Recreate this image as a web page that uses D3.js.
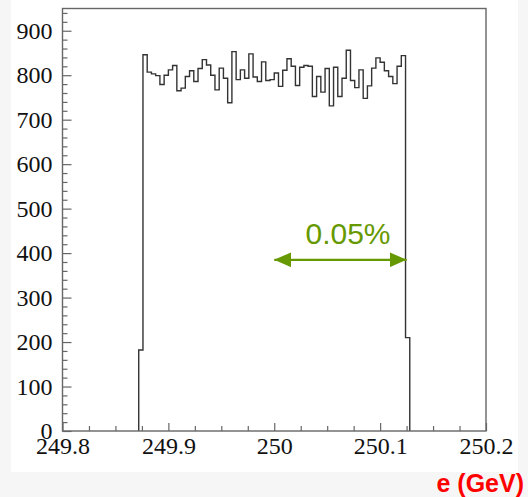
<!DOCTYPE html>
<html>
<head>
<meta charset="utf-8">
<script src="https://cdn.jsdelivr.net/npm/d3@7/dist/d3.min.js"></script>
<style>
  html, body { margin: 0; padding: 0; background: #f6f6f6; }
  svg { display: block; }
</style>
</head>
<body>
<svg id="chart" width="528" height="497"></svg>
<script>
// Beam energy histogram: 100 bins of 0.004 GeV between 249.8 and 250.2 GeV
const histRange = [249.8, 250.2];
const binCount = 100;
const firstFilledBin = 18;
// Counts of the filled bins, starting at bin 18 (249.872 GeV)
const binCounts = [
  182, 846, 807, 803, 799, 779, 800, 812, 822, 765,
  771, 797, 810, 786, 815, 835, 823, 800, 767, 816,
  793, 738, 853, 790, 812, 793, 848, 796, 786, 830,
  788, 790, 805, 775, 811, 837, 820, 777, 818, 822,
  820, 752, 797, 762, 815, 731, 818, 752, 793, 856,
  788, 772, 812, 748, 776, 816, 839, 829, 810, 797,
  781, 820, 844, 210
];
const xTicks = [249.8, 249.9, 250.0, 250.1, 250.2];
const xTickLabels = ["249.8", "249.9", "250", "250.1", "250.2"];
const xMinorTicks = [249.825, 249.85, 249.875, 249.925, 249.95, 249.975,
                     250.025, 250.05, 250.075, 250.125, 250.15, 250.175];
const yTicks = [0, 100, 200, 300, 400, 500, 600, 700, 800, 900];
const yMinorTicks = d3.range(0, 950, 20).filter(v => v % 100 !== 0);
const yMax = 950;
// Spread annotation: 0.05% of 250 GeV
const spreadRange = [250.0, 250.125];
const spreadLabel = "0.05%";
const axisTitle = "e (GeV)";

const svg = d3.select("#chart");
const frame = { left: 62.5, right: 486, top: 8.5, bottom: 431 };

// white pad behind the plot
svg.append("rect")
  .attr("x", 11).attr("y", 0).attr("width", 507).attr("height", 472)
  .attr("fill", "#ffffff");

const x = d3.scaleLinear().domain(histRange).range([frame.left, frame.right]);
const y = d3.scaleLinear().domain([0, yMax]).range([frame.bottom, frame.top]);

const binWidth = (histRange[1] - histRange[0]) / binCount;

// step outline of the histogram
const pts = [];
const firstLow = histRange[0] + firstFilledBin * binWidth;
pts.push([x(firstLow), y(0)]);
binCounts.forEach((c, i) => {
  const lo = histRange[0] + (firstFilledBin + i) * binWidth;
  const hi = lo + binWidth;
  pts.push([x(lo), y(c)]);
  pts.push([x(hi), y(c)]);
});
const lastHigh = histRange[0] + (firstFilledBin + binCounts.length) * binWidth;
pts.push([x(lastHigh), y(0)]);

svg.append("path")
  .attr("d", d3.line()(pts))
  .attr("fill", "none")
  .attr("stroke", "#333")
  .attr("stroke-width", 1.4);

const tickFont = "'Liberation Serif', 'Times New Roman', serif";

// y axis: major and minor ticks pointing into the frame
svg.append("g")
  .attr("transform", `translate(${frame.left},0)`)
  .call(d3.axisLeft(y).tickValues(yTicks).tickSize(-9).tickPadding(10).tickFormat(d3.format("d")));
svg.append("g")
  .attr("transform", `translate(${frame.left},0)`)
  .call(d3.axisLeft(y).tickValues(yMinorTicks).tickSize(-5).tickFormat(""));

// x axis
svg.append("g")
  .attr("transform", `translate(0,${frame.bottom})`)
  .call(d3.axisBottom(x).tickValues(xTicks).tickSize(-8).tickPadding(6)
    .tickFormat((d, i) => xTickLabels[i]));
svg.append("g")
  .attr("transform", `translate(0,${frame.bottom})`)
  .call(d3.axisBottom(x).tickValues(xMinorTicks).tickSize(-5).tickFormat(""));

svg.selectAll(".domain").remove();
svg.selectAll(".tick line").attr("stroke", "#666").attr("stroke-width", 1.2);
svg.selectAll(".tick text")
  .attr("font-family", tickFont)
  .attr("font-size", 24)
  .attr("fill", "#111");

// frame
svg.append("rect")
  .attr("x", frame.left).attr("y", frame.top)
  .attr("width", frame.right - frame.left)
  .attr("height", frame.bottom - frame.top)
  .attr("fill", "none")
  .attr("stroke", "#666")
  .attr("stroke-width", 1.4);

// spread arrow
const green = "#669900";
const defs = svg.append("defs");
defs.append("marker")
  .attr("id", "head")
  .attr("viewBox", "0 0 17 15")
  .attr("refX", 17).attr("refY", 7.5)
  .attr("markerWidth", 17).attr("markerHeight", 15)
  .attr("markerUnits", "userSpaceOnUse")
  .attr("orient", "auto-start-reverse")
  .append("path")
  .attr("d", "M0,0 L17,7.5 L0,15 Z")
  .attr("fill", green);

const arrowY = y(385);
svg.append("line")
  .attr("x1", x(spreadRange[0])).attr("x2", x(spreadRange[1]))
  .attr("y1", arrowY).attr("y2", arrowY)
  .attr("stroke", green).attr("stroke-width", 2.2)
  .attr("marker-start", "url(#head)")
  .attr("marker-end", "url(#head)");

svg.append("text")
  .attr("x", 348).attr("y", 244)
  .attr("text-anchor", "middle")
  .attr("font-family", "'Liberation Sans', Arial, sans-serif")
  .attr("font-size", 30)
  .attr("fill", green)
  .text(spreadLabel);

// axis title
svg.append("text")
  .attr("x", 524).attr("y", 492)
  .attr("text-anchor", "end")
  .attr("font-family", "'Liberation Sans', Arial, sans-serif")
  .attr("font-weight", "bold")
  .attr("font-size", 25)
  .attr("fill", "#ff0000")
  .text(axisTitle);
</script>
</body>
</html>
